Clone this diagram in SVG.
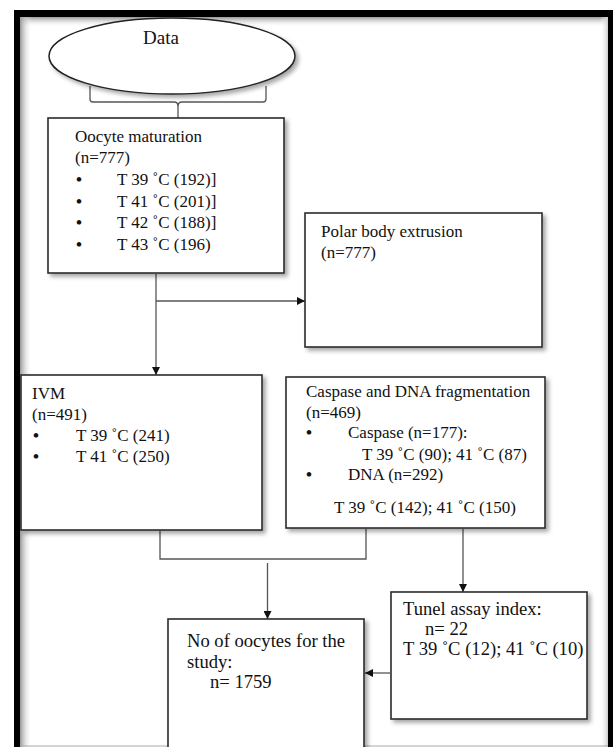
<svg xmlns="http://www.w3.org/2000/svg" width="613" height="747" viewBox="0 0 613 747">
<style>
.t{font-family:"Liberation Serif","Times New Roman",serif;font-size:17px;fill:#111}
.big{font-size:18.6px}
.b{font-weight:bold}
.box{fill:#fff;stroke:#2a2a2a;stroke-width:1.6}
.c{fill:none;stroke:#555;stroke-width:1.3}
</style>
<defs>
<filter id="sh" x="-10%" y="-10%" width="130%" height="130%">
<feDropShadow dx="3" dy="3" stdDeviation="2" flood-color="#000" flood-opacity="0.35"/>
</filter>
<marker id="ah" viewBox="0 0 10 10" refX="10" refY="5" markerWidth="8" markerHeight="8" markerUnits="userSpaceOnUse" orient="auto">
<path d="M0,0 L10,5 L0,10 z" fill="#111"/>
</marker>
<linearGradient id="gt" x1="0" y1="0" x2="0" y2="1">
<stop offset="0" stop-color="#999"/><stop offset="1" stop-color="#fff" stop-opacity="0"/>
</linearGradient>
<linearGradient id="gl" x1="0" y1="0" x2="1" y2="0">
<stop offset="0" stop-color="#999"/><stop offset="1" stop-color="#fff" stop-opacity="0"/>
</linearGradient>
<linearGradient id="gr" x1="1" y1="0" x2="0" y2="0">
<stop offset="0" stop-color="#ccc"/><stop offset="1" stop-color="#fff" stop-opacity="0"/>
</linearGradient>
</defs>
<rect x="0" y="0" width="613" height="747" fill="#fff"/>
<g id="frame">
<rect x="20" y="17" width="588" height="10" fill="url(#gt)"/>
<rect x="20" y="17" width="12" height="730" fill="url(#gl)"/>
<rect x="600" y="17" width="8" height="730" fill="url(#gr)"/>
<rect x="14" y="10" width="599" height="7" fill="#000"/>
<rect x="14" y="10" width="6" height="737" fill="#000"/>
<rect x="608" y="10" width="5" height="737" fill="#000"/>
<line x1="20" y1="746" x2="608" y2="746" stroke="#aaa" stroke-width="1"/>
</g>
<g id="connectors">
<path class="c" d="M90,86 V99 Q90,102 93,102 H174 Q178,102 178,106 V118"/>
<path class="c" d="M266,86 V99 Q266,102 263,102 H182 Q178,102 178,106"/>
<line class="c" x1="156" y1="274" x2="156" y2="375" marker-end="url(#ah)"/>
<line class="c" x1="156" y1="301" x2="305" y2="301" marker-end="url(#ah)"/>
<path class="c" d="M160,531 V559 H366 V529"/>
<line class="c" x1="267.5" y1="563" x2="267.5" y2="619" marker-end="url(#ah)"/>
<line class="c" x1="463" y1="529" x2="463" y2="592" marker-end="url(#ah)"/>
<line class="c" x1="390" y1="673" x2="365" y2="673" marker-end="url(#ah)"/>
</g>
<g id="data">
<ellipse cx="172" cy="56" rx="123" ry="38" fill="#fff" stroke="#222" stroke-width="1.5" filter="url(#sh)"/>
<text class="t" x="161" y="44" text-anchor="middle" style="font-size:19px">Data</text>
</g>
<g id="oocyte">
<rect class="box" x="48" y="118" width="236" height="155" filter="url(#sh)"/>
<text class="t" x="75" y="142">Oocyte maturation</text>
<text class="t" x="75" y="163">(n=777)</text>
<text class="t b" x="76" y="185">•</text><text class="t" x="117" y="185">T 39 ˚C (192)]</text>
<text class="t b" x="76" y="207">•</text><text class="t" x="117" y="207">T 41 ˚C (201)]</text>
<text class="t b" x="76" y="228">•</text><text class="t" x="117" y="228">T 42 ˚C (188)]</text>
<text class="t b" x="76" y="250">•</text><text class="t" x="117" y="250">T 43 ˚C (196)</text>
</g>
<g id="polar">
<rect class="box" x="305" y="213" width="237" height="134" filter="url(#sh)"/>
<text class="t" x="321" y="237">Polar body extrusion</text>
<text class="t" x="321" y="258">(n=777)</text>
</g>
<g id="ivm">
<rect class="box" x="21" y="375" width="241" height="155" filter="url(#sh)"/>
<text class="t" x="32" y="399">IVM</text>
<text class="t" x="32" y="420">(n=491)</text>
<text class="t b" x="33" y="441">•</text><text class="t" x="76" y="441">T 39 ˚C (241)</text>
<text class="t b" x="33" y="462">•</text><text class="t" x="76" y="462">T 41 ˚C (250)</text>
</g>
<g id="caspase">
<rect class="box" x="286" y="377" width="259" height="151" filter="url(#sh)"/>
<text class="t" x="306" y="397">Caspase and DNA fragmentation</text>
<text class="t" x="306" y="418">(n=469)</text>
<text class="t b" x="306" y="438">•</text><text class="t" x="348" y="438">Caspase (n=177):</text>
<text class="t" x="362" y="460">T 39 ˚C (90); 41 ˚C (87)</text>
<text class="t b" x="306" y="480">•</text><text class="t" x="348" y="480">DNA (n=292)</text>
<text class="t" x="334" y="513">T 39 ˚C (142); 41 ˚C (150)</text>
</g>
<g id="tunel">
<rect class="box" x="391" y="592" width="196" height="127" filter="url(#sh)"/>
<text class="t big" x="403" y="615">Tunel assay index:</text>
<text class="t big" x="425" y="635">n= 22</text>
<text class="t big" x="403" y="655">T 39 ˚C (12); 41 ˚C (10)</text>
</g>
<g id="total">
<rect class="box" x="168" y="619" width="196" height="140" filter="url(#sh)"/>
<text class="t big" x="187" y="647">No of oocytes for the</text>
<text class="t big" x="187" y="668">study:</text>
<text class="t big" x="210" y="688">n= 1759</text>
</g>
</svg>
